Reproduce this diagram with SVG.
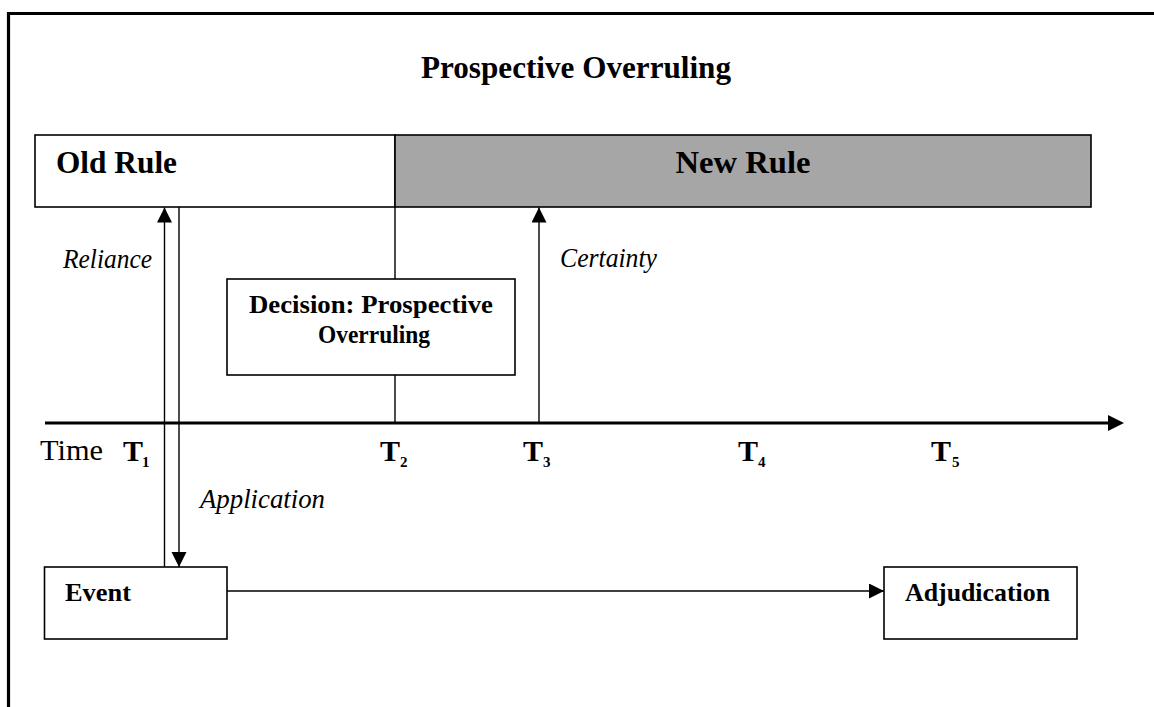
<svg xmlns="http://www.w3.org/2000/svg" width="1154" height="707" viewBox="0 0 1154 707">
<style>
  text { font-family: "Liberation Serif", "Times New Roman", serif; fill: #000; }
  .b { font-weight: bold; }
  .i { font-style: italic; }
  .box { fill: #fff; stroke: #000; stroke-width: 1.6; }
  .ln { stroke: #000; stroke-width: 1.4; fill: none; }
</style>
<defs>
  <marker id="ah" markerUnits="userSpaceOnUse" markerWidth="16" markerHeight="16" refX="15" refY="7.5" orient="auto" viewBox="0 0 16 16">
    <path d="M0,0 L15,7.5 L0,15 z" fill="#000"/>
  </marker>
  <marker id="ahL" markerUnits="userSpaceOnUse" markerWidth="17" markerHeight="17" refX="12" refY="8" orient="auto" viewBox="0 0 17 17">
    <path d="M0,0 L16,8 L0,16 z" fill="#000"/>
  </marker>
</defs>
<rect width="1154" height="707" fill="#fff"/>
<path d="M8.5,707 L8.5,13.5 L1154,13.5" fill="none" stroke="#000" stroke-width="3.2"/>
<text x="576" y="78" class="b" font-size="31" text-anchor="middle" textLength="310" lengthAdjust="spacingAndGlyphs">Prospective Overruling</text>

<g id="connectors">
  <line class="ln" x1="395" y1="207" x2="395" y2="423"/>
  <line class="ln" x1="164.5" y1="567" x2="164.5" y2="207.5" marker-end="url(#ah)"/>
  <line class="ln" x1="179" y1="207" x2="179" y2="567" marker-end="url(#ah)"/>
  <line class="ln" x1="539" y1="423" x2="539" y2="207.5" marker-end="url(#ah)"/>
  <line class="ln" x1="227" y1="591" x2="884" y2="591" marker-end="url(#ah)"/>
  <line x1="45" y1="423" x2="1120" y2="423" stroke="#000" stroke-width="3.2" marker-end="url(#ahL)"/>
</g>

<g id="old-rule">
  <rect class="box" x="35" y="135" width="360" height="72"/>
  <text x="56" y="173" class="b" font-size="31" textLength="121" lengthAdjust="spacingAndGlyphs">Old Rule</text>
</g>
<g id="new-rule">
  <rect class="box" x="395" y="135" width="696" height="72" style="fill:#a6a6a6"/>
  <text x="743" y="173" class="b" font-size="31" text-anchor="middle" textLength="135" lengthAdjust="spacingAndGlyphs">New Rule</text>
</g>
<g id="decision">
  <rect class="box" x="227" y="279" width="288" height="96"/>
  <text x="371" y="313" class="b" font-size="26" text-anchor="middle" textLength="244" lengthAdjust="spacingAndGlyphs">Decision: Prospective</text>
  <text x="374" y="343" class="b" font-size="26" text-anchor="middle" textLength="112" lengthAdjust="spacingAndGlyphs">Overruling</text>
</g>
<g id="event">
  <rect class="box" x="44.5" y="567" width="182.5" height="72"/>
  <text x="65" y="601" class="b" font-size="26" textLength="66" lengthAdjust="spacingAndGlyphs">Event</text>
</g>
<g id="adjudication">
  <rect class="box" x="884" y="567" width="193" height="72"/>
  <text x="905" y="601" class="b" font-size="26" textLength="145" lengthAdjust="spacingAndGlyphs">Adjudication</text>
</g>

<g id="labels">
  <text x="63" y="268" class="i" font-size="27" textLength="89" lengthAdjust="spacingAndGlyphs">Reliance</text>
  <text x="560" y="267" class="i" font-size="27" textLength="97" lengthAdjust="spacingAndGlyphs">Certainty</text>
  <text x="200" y="508" class="i" font-size="27" textLength="125" lengthAdjust="spacingAndGlyphs">Application</text>
  <text x="40" y="460" font-size="30" textLength="63" lengthAdjust="spacingAndGlyphs">Time</text>
  <text x="123" y="461" class="b" font-size="30">T</text><text x="142" y="467" class="b" font-size="15">1</text>
  <text x="380" y="461" class="b" font-size="30">T</text><text x="400" y="467" class="b" font-size="15">2</text>
  <text x="523" y="461" class="b" font-size="30">T</text><text x="543" y="467" class="b" font-size="15">3</text>
  <text x="738" y="461" class="b" font-size="30">T</text><text x="758" y="467" class="b" font-size="15">4</text>
  <text x="931" y="461" class="b" font-size="30">T</text><text x="952" y="467" class="b" font-size="15">5</text>
</g>
</svg>
